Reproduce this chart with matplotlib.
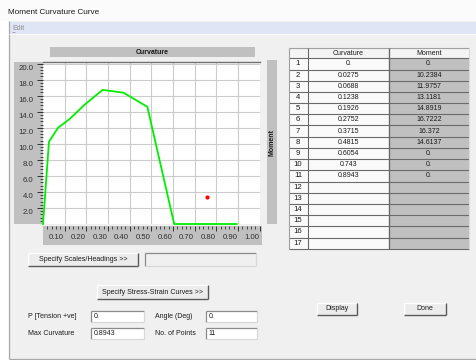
import matplotlib
matplotlib.use('Agg')
import matplotlib.pyplot as plt
import numpy as np
from matplotlib.patches import Rectangle
from matplotlib.transforms import ScaledTranslation

# ---------------- data ----------------
curvature = [0.0, 0.0275, 0.0688, 0.1238, 0.1926, 0.2752, 0.3715, 0.4815, 0.6054, 0.743, 0.8943]
moment = [0.0, 10.2384, 11.9757, 13.1181, 14.8919, 16.7222, 16.372, 14.6137, 0.0, 0.0, 0.0]
curvature_text = ["0.", "0.0275", "0.0688", "0.1238", "0.1926", "0.2752", "0.3715", "0.4815", "0.6054", "0.743", "0.8943"]
moment_text = ["0.", "10.2384", "11.9757", "13.1181", "14.8919", "16.7222", "16.372", "14.6137", "0.", "0.", "0."]
marker_x = [0.757]
marker_y = [3.35]
x_ticks = [0.1, 0.2, 0.3, 0.4, 0.5, 0.6, 0.7, 0.8, 0.9, 1.0]
x_tick_labels = ["0.10", "0.20", "0.30", "0.40", "0.50", "0.60", "0.70", "0.80", "0.90", "1.00"]
y_ticks = [2, 4, 6, 8, 10, 12, 14, 16, 18, 20]
y_tick_labels = ["2.0", "4.0", "6.0", "8.0", "10.0", "12.0", "14.0", "16.0", "18.0", "20.0"]
n_rows = 17

plt.rcParams['font.family'] = ['Liberation Sans Narrow', 'Liberation Sans', 'DejaVu Sans']
FS = 5.6
BFS = 5.0

W, H = 476, 360
fig = plt.figure(figsize=(W / 100, H / 100), dpi=100)
fig.patch.set_facecolor('white')

bg = fig.add_axes([0, 0, 1, 1], zorder=0)
bg.set_xlim(0, W)
bg.set_ylim(H, 0)
bg.axis('off')


def rect(x0, y0, x1, y1, fc='none', ec='none', lw=0.8, z=1):
    bg.add_patch(Rectangle((x0, y0), x1 - x0, y1 - y0, facecolor=fc, edgecolor=ec, lw=lw, zorder=z))


def line(x0, y0, x1, y1, c, lw=0.8, z=2):
    bg.plot([x0, x1], [y0, y1], color=c, lw=lw, zorder=z, solid_capstyle='butt')


def txt(x, y, s, ha='left', va='center', size=FS, **kw):
    bg.text(x, y, s, ha=ha, va=va, fontsize=size, zorder=5, color=kw.pop('color', '#1a1a1a'), **kw)


def button(x0, y0, x1, y1, label):
    rect(x0, y0, x1, y1, fc='#ececec', z=2)
    line(x0, y0, x1, y0, 'white', 1.0, 3)
    line(x0, y0, x0, y1, 'white', 1.0, 3)
    line(x0, y1, x1, y1, '#5a5a5a', 1.0, 3)
    line(x1, y0, x1, y1, '#5a5a5a', 1.0, 3)
    txt((x0 + x1) / 2, (y0 + y1) / 2, label, ha='center', size=BFS)


def textbox(x0, y0, x1, y1, value, fc='white'):
    rect(x0, y0, x1, y1, fc=fc, z=2)
    line(x0, y0, x1, y0, '#8a8a8a', 0.9, 3)
    line(x0, y0, x0, y1, '#8a8a8a', 0.9, 3)
    line(x0, y1, x1, y1, '#d8d8d8', 0.9, 3)
    line(x1, y0, x1, y1, '#d8d8d8', 0.9, 3)
    if value:
        txt(x0 + 2.5, (y0 + y1) / 2, value, size=BFS)


# window chrome
rect(0, 0, W, 21, fc='#fbfbfb', z=0.5)
txt(8, 13, "Moment Curvature Curve", size=5.9)
rect(8.5, 21, W, 359, fc='#f0f0f0', z=0.6)
line(8.5, 21, 8.5, 358.5, '#a8a8a8', 0.9)
line(8.5, 358.5, W, 358.5, '#a8a8a8', 0.9)
rect(9, 22, W, 34, fc='#dfe5f4', z=0.7)
line(9, 34, W, 34, '#f8f8f8', 0.8)
txt(12, 28.5, "Edit", color='#8c8c8c', size=BFS)
line(12, 32.3, 15.3, 32.3, '#8c8c8c', 0.5)

# chart furniture
rect(50, 47, 255, 57, fc='#c0c0c0', z=1)
txt(152.5, 52, "Curvature", ha='center', weight='bold', size=BFS)
rect(14, 62, 43, 224, fc='#c0c0c0', z=1)
rect(43, 226, 262, 245, fc='#c0c0c0', z=1)
rect(267, 60, 277, 224, fc='#c0c0c0', z=1)
txt(272, 142, "Moment", ha='center', rotation=90, weight='bold', size=BFS)

# main plot
ax = fig.add_axes([43 / W, 1 - 224 / H, (259.7 - 43) / W, (224 - 62) / H], zorder=2)
ax.set_facecolor('white')
ax.set_xlim(0, 1.0)
ax.set_ylim(0, 20.2)
ax.set_xticks(x_ticks[:-1])
ax.tick_params(axis='x', length=0, labelbottom=False)
ax.set_yticks(y_ticks)
ax.set_yticklabels(y_tick_labels)
ax.set_yticks(np.arange(0.4, 20.01, 0.4), minor=True)
ax.tick_params(axis='y', which='major', length=4, width=0.7, direction='out',
               pad=3, labelsize=FS, colors='#303030')
ax.tick_params(axis='y', which='minor', length=2, width=0.6, direction='out', colors='#303030')
ax.grid(True, which='major', color='#cccccc', lw=0.8)
for s in ['left', 'right', 'bottom']:
    ax.spines[s].set_visible(False)
ax.spines['top'].set_color('#707070')
ax.spines['top'].set_linewidth(1.0)
ax.plot(curvature, moment, color='#00ee00', lw=1.3, zorder=3, clip_on=False)
ax.plot(marker_x, marker_y, 'o', color='#ff0000', ms=2.0, zorder=4)
off_y = ScaledTranslation(0, -4 / 100, fig.dpi_scale_trans)
for lab in ax.get_yticklabels():
    lab.set_transform(lab.get_transform() + off_y)

# lower axis panel
axb = fig.add_axes([43 / W, 1 - 232 / H, (259.7 - 43) / W, 6 / H], zorder=2)
axb.set_facecolor('none')
axb.set_xlim(0, 1.0)
axb.set_ylim(0, 1)
axb.set_yticks([])
for s in axb.spines.values():
    s.set_visible(False)
axb.set_xticks(x_ticks)
axb.set_xticklabels(x_tick_labels)
axb.set_xticks(np.arange(0.02, 1.0, 0.02), minor=True)
axb.tick_params(axis='x', which='both', top=True, bottom=False, labeltop=False,
                labelbottom=True, direction='in', colors='#303030', labelsize=FS)
axb.tick_params(axis='x', which='major', length=3.5, width=0.7, pad=1.5)
axb.tick_params(axis='x', which='minor', length=2, width=0.6)
off_x = ScaledTranslation(-8 / 100, 0, fig.dpi_scale_trans)
for lab in axb.get_xticklabels():
    lab.set_transform(lab.get_transform() + off_x)

# table
cx = [289, 308, 389, 469]
top, hdr, rh = 48, 58.3, 11.2
bottom = hdr + n_rows * rh
rect(cx[0], top, cx[3], bottom, fc='#fafafa', z=1)
rect(cx[2], hdr, cx[3], bottom, fc='#c0c0c0', z=1.1)
rect(cx[0], top, cx[3], hdr, fc='#f4f4f4', z=1.1)
txt((cx[1] + cx[2]) / 2, (top + hdr) / 2, "Curvature", ha='center', size=BFS)
txt((cx[2] + cx[3]) / 2, (top + hdr) / 2, "Moment", ha='center', size=BFS)
for i in range(n_rows + 1):
    y = hdr + i * rh
    line(cx[0], y, cx[3], y, '#6a6a6a', 0.8)
for i in range(n_rows):
    yc = hdr + (i + 0.5) * rh
    txt(298, yc, str(i + 1), ha='center', size=FS)
    if i < len(curvature_text):
        txt((cx[1] + cx[2]) / 2, yc, curvature_text[i], ha='center', size=BFS)
        txt((cx[2] + cx[3]) / 2, yc, moment_text[i], ha='center', size=BFS)
line(cx[0], top, cx[3], top, '#a0a0a0', 0.8)
line(cx[0], top, cx[0], bottom, '#a0a0a0', 0.8)
line(cx[1], top, cx[1], bottom, '#6a6a6a', 0.8)
line(cx[2], top, cx[2], bottom, '#6a6a6a', 1.0)
line(cx[3], top, cx[3], bottom, '#dcdcdc', 0.8)

# controls
button(28, 253, 138, 266, "Specify Scales/Headings >>")
textbox(145, 253, 256, 266, "", fc='#f0f0f0')
button(97, 285, 208, 299, "Specify Stress-Strain Curves >>")
txt(28, 316.5, "P [Tension +ve]", size=BFS)
textbox(91, 311, 144, 322, "0.")
txt(28, 333.5, "Max Curvature", size=BFS)
textbox(91, 328, 144, 339, "0.8943")
txt(155, 316.5, "Angle (Deg)", size=BFS)
textbox(206, 311, 257, 322, "0.")
txt(155, 333.5, "No. of Points", size=BFS)
textbox(206, 328, 257, 339, "11")
button(317, 303, 357, 315, "Display")
button(404, 303, 446, 315, "Done")

fig.savefig('out.png', dpi=100, facecolor='white')
